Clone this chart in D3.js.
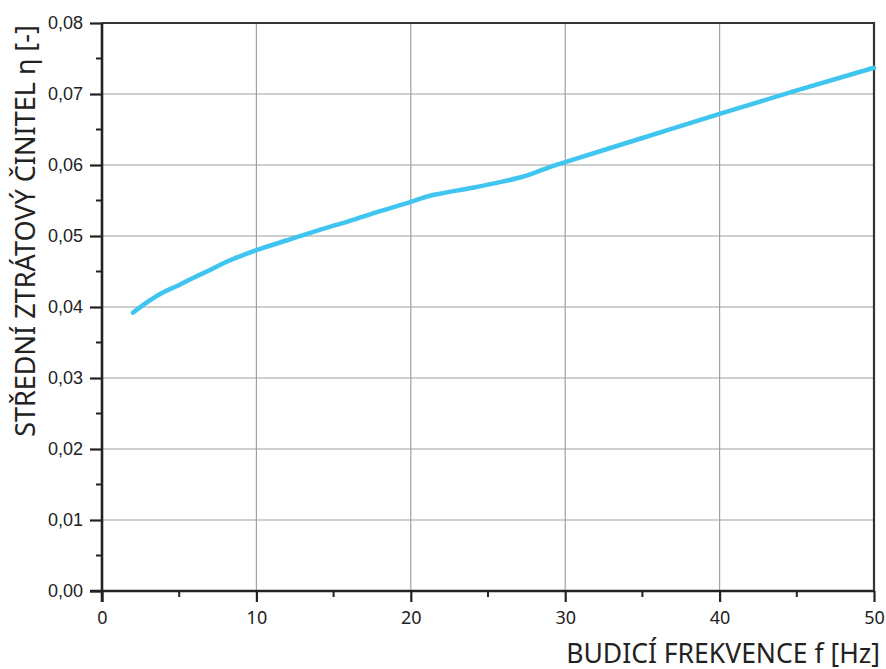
<!DOCTYPE html>
<html>
<head>
<meta charset="utf-8">
<script src="https://cdn.jsdelivr.net/npm/d3@7"></script>
<style>
  html, body { margin: 0; padding: 0; background: #fff; }
  svg { display: block; }
</style>
</head>
<body>
<svg id="chart" width="886" height="669"></svg>
<script>
// Loss factor vs. excitation frequency
const frequency = [2, 3, 4, 5, 6, 7, 8, 9, 10, 12, 14, 16, 18, 20, 21.3, 22, 24, 26, 27, 28, 29, 30, 35, 40, 45, 50];
const lossFactor = [0.0392, 0.0408, 0.0421, 0.0431, 0.0442, 0.0452, 0.0463, 0.0472, 0.0480, 0.0494, 0.0508, 0.0521, 0.0535, 0.0548, 0.0557, 0.0560, 0.0568, 0.0577, 0.0582, 0.0589, 0.0597, 0.0604, 0.0638, 0.0672, 0.0705, 0.0737];
const xTicks = [0, 10, 20, 30, 40, 50];
const yTicks = [0, 0.01, 0.02, 0.03, 0.04, 0.05, 0.06, 0.07, 0.08];
const xTitle = "BUDICÍ FREKVENCE f [Hz]";
const yTitle = "STŘEDNÍ ZTRÁTOVÝ ČINITEL η [-]";

const margin = { left: 102, right: 12, top: 23, bottom: 78 };
const W = 886, H = 669;
const svg = d3.select("#chart");

const x = d3.scaleLinear().domain([0, 50]).range([margin.left, W - margin.right]);
const y = d3.scaleLinear().domain([0, 0.08]).range([H - margin.bottom, margin.top]);

// grid
const grid = svg.append("g").attr("stroke", "#a0a0a0").attr("stroke-width", 1.2);
grid.selectAll(".gx").data(xTicks.slice(1, -1)).join("line")
  .attr("x1", d => x(d)).attr("x2", d => x(d))
  .attr("y1", y(0)).attr("y2", y(0.08));
grid.selectAll(".gy").data(yTicks.slice(1, -1)).join("line")
  .attr("y1", d => y(d)).attr("y2", d => y(d))
  .attr("x1", x(0)).attr("x2", x(50));

// frame (top and right)
svg.append("path")
  .attr("d", `M${x(0)},${y(0.08)}H${x(50)}V${y(0)}`)
  .attr("fill", "none").attr("stroke", "#333").attr("stroke-width", 2.2);

// minor ticks
const xMinor = d3.range(5, 50, 10);
const yMinor = d3.range(0.005, 0.08, 0.01);
svg.append("g").attr("stroke", "#222").attr("stroke-width", 2)
  .selectAll("line").data(xMinor).join("line")
  .attr("x1", d => x(d)).attr("x2", d => x(d))
  .attr("y1", y(0)).attr("y2", y(0) + 6);
svg.append("g").attr("stroke", "#222").attr("stroke-width", 2)
  .selectAll("line").data(yMinor).join("line")
  .attr("y1", d => y(d)).attr("y2", d => y(d))
  .attr("x1", x(0)).attr("x2", x(0) - 6);

// axes
const fmtY = d => d3.format(".2f")(d).replace(".", ",");
const xAxis = svg.append("g")
  .attr("transform", `translate(0,${y(0)})`)
  .call(d3.axisBottom(x).tickValues(xTicks).tickSize(11).tickPadding(9).tickFormat(d3.format("d")));
const yAxis = svg.append("g")
  .attr("transform", `translate(${x(0)},0)`)
  .call(d3.axisLeft(y).tickValues(yTicks).tickSize(12).tickPadding(7).tickFormat(fmtY));

[xAxis, yAxis].forEach(a => {
  a.select(".domain").attr("stroke", "#222").attr("stroke-width", 2.6);
  a.selectAll(".tick line").attr("stroke", "#222").attr("stroke-width", 2.2);
  a.selectAll(".tick text").attr("fill", "#222").attr("font-size", 18);
});
xAxis.select(".domain").attr("d", `M${x(0) - 12},0H${x(50)}`);
yAxis.select(".domain").attr("d", `M0,${y(0.08)}V${y(0) + 11}`);
xAxis.selectAll(".tick text").attr("font-family", "'Noto Sans', sans-serif");
yAxis.selectAll(".tick text").attr("font-family", "'Liberation Sans', Arial, sans-serif");

// curve
const line = d3.line().x((d, i) => x(frequency[i])).y(d => y(d)).curve(d3.curveMonotoneX);
svg.append("path")
  .datum(lossFactor)
  .attr("d", line)
  .attr("fill", "none")
  .attr("stroke", "#3fc5f0")
  .attr("stroke-width", 4.5)
  .attr("stroke-linecap", "round")
  .attr("stroke-linejoin", "round");

// titles, sized to span their intended lengths
function fitText(sel, targetLen) {
  const len = sel.node().getComputedTextLength();
  const fs = parseFloat(sel.attr("font-size"));
  sel.attr("font-size", fs * targetLen / len);
}
const xt = svg.append("text")
  .attr("x", 880).attr("y", 663)
  .attr("text-anchor", "end")
  .attr("font-family", "'Noto Sans', sans-serif")
  .attr("font-size", 24)
  .attr("fill", "#222")
  .text(xTitle);
fitText(xt, 314);
const yt = svg.append("text")
  .attr("transform", `translate(35,${(25 + 437) / 2}) rotate(-90)`)
  .attr("text-anchor", "middle")
  .attr("font-family", "'Noto Sans', sans-serif")
  .attr("font-size", 24)
  .attr("fill", "#222")
  .text(yTitle);
fitText(yt, 412);
</script>
</body>
</html>
